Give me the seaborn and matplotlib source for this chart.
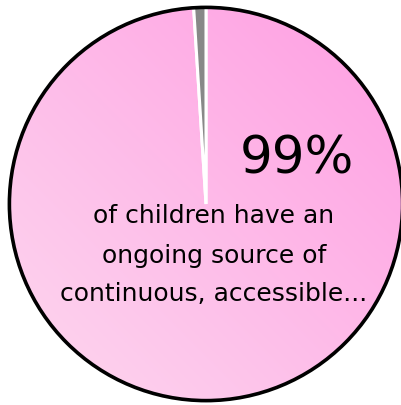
import numpy as np
import matplotlib
matplotlib.use("Agg")
import matplotlib.pyplot as plt
import seaborn as sns
from matplotlib.colors import LinearSegmentedColormap

sns.set_theme(style="white")
plt.rcParams['font.family'] = ['DejaVu Sans']

categories = ["Have ongoing source", "Other"]
values = [99, 1]
colors = ["#ffb0e6", "#888888"]
big_label = "99%"
caption_lines = ["of children have an", "ongoing source of", "continuous, accessible..."]

fig = plt.figure(figsize=(4.02, 4.06), dpi=100)
ax = fig.add_axes([8/402, 3/406, 396/402, 396/406])

wedges, _ = ax.pie(values, colors=colors, startangle=90, counterclock=False,
                   radius=1.0, wedgeprops=dict(edgecolor='white', linewidth=2.2))
ax.set_aspect('equal')
ax.axis('off')

# gradient fill for the main wedge
cmap = LinearSegmentedColormap.from_list("pk", ["#fdd8ef", "#ff9de2"])
gx, gy = np.meshgrid(np.linspace(0, 1, 300), np.linspace(0, 1, 300))
grad = (gx + gy) / 2
im = ax.imshow(grad, extent=(-1, 1, -1, 1), origin='lower', cmap=cmap, zorder=0.5)
im.set_clip_path(wedges[0])
wedges[0].set_facecolor('none')
wedges[0].set_zorder(1)
wedges[1].set_zorder(1)
ax.set_xlim(-1, 1)
ax.set_ylim(-1, 1)

circle = plt.Circle((0, 0), 0.993, fill=False, edgecolor='black', linewidth=2.6, zorder=3, clip_on=False)
ax.add_patch(circle)

ax.text(0.46, 0.23, big_label, ha='center', va='center', fontsize=37, color='black', zorder=4)
ys = [-0.056, -0.26, -0.45]
for line, y in zip(caption_lines, ys):
    ax.text(0.04, y, line, ha='center', va='center', fontsize=18, color='black', zorder=4)

fig.savefig("out.png", dpi=100)
